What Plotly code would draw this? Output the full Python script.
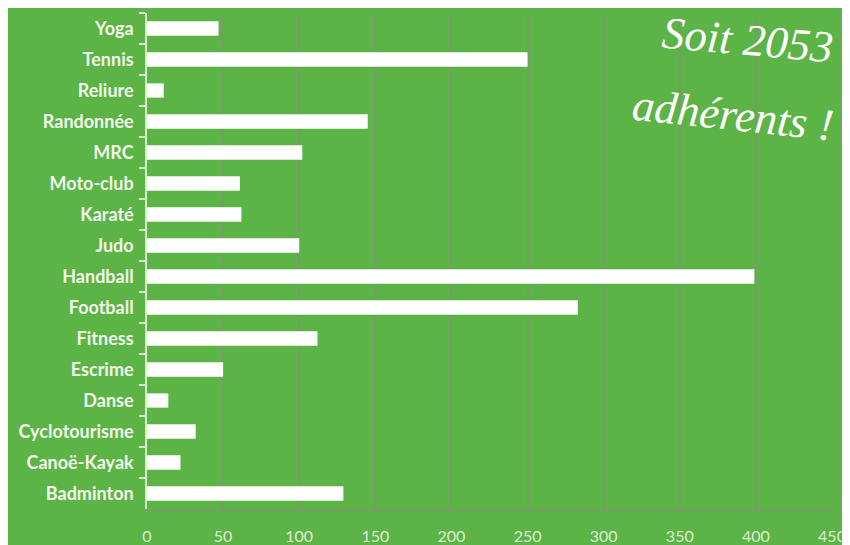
import plotly.graph_objects as go

categories = ["Yoga", "Tennis", "Reliure", "Randonnée", "MRC", "Moto-club", "Karaté",
              "Judo", "Handball", "Football", "Fitness", "Escrime", "Danse",
              "Cyclotourisme", "Canoë-Kayak", "Badminton"]
adherents = [47, 250, 11, 145, 102, 61, 62, 100, 399, 283, 112, 50, 14, 32, 22, 129]
x_ticks = [0, 50, 100, 150, 200, 250, 300, 350, 400, 450]

BG = "#5BB445"
GRID = "#7A9A6C"

fig = go.Figure(go.Bar(
    x=adherents, y=categories, orientation="h",
    marker=dict(color="#FFFFFF", line=dict(width=0)),
    width=0.46,
))

fig.update_layout(
    width=850, height=545,
    paper_bgcolor=BG, plot_bgcolor=BG,
    margin=dict(l=139, r=26, t=5, b=44),
    showlegend=False,
    xaxis=dict(range=[0, 450], tickvals=x_ticks, showgrid=True,
               gridcolor=GRID, gridwidth=2, zeroline=False,
               showline=True, linecolor=GRID, linewidth=1.5, ticks="",
               ticklabelstandoff=12,
               tickfont=dict(family="Lato", size=16, color="#DDF0D2")),
    yaxis=dict(autorange="reversed", type="category", showgrid=False,
               showline=True, linecolor="#D8ECCB", linewidth=1.5,
               ticks="outside", tickson="boundaries", ticklen=6,
               tickcolor="#D8ECCB", tickwidth=1.5,
               tickfont=dict(family="Lato", size=18, color="#F2F8EC", weight="bold"),
               ticklabelstandoff=8),
    annotations=[
        dict(text="Soit 2053", xref="paper", yref="paper", x=0.876, y=0.946,
             xanchor="center", yanchor="middle",
             showarrow=False, textangle=5,
             font=dict(family="Liberation Serif", size=45, color="#FFFFFF", style="italic")),
        dict(text="adhérents !", xref="paper", yref="paper", x=0.855, y=0.795,
             xanchor="center", yanchor="middle",
             showarrow=False, textangle=6,
             font=dict(family="Liberation Serif", size=45, color="#FFFFFF", style="italic")),
    ],
)

fig.write_html("out.html")
